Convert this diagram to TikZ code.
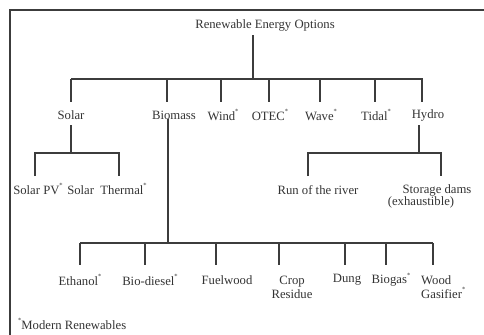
\documentclass[tikz,border=0pt]{standalone}
\usepackage{fontspec}
\setmainfont{Liberation Serif}
\definecolor{ink}{HTML}{333333}
\definecolor{rule}{HTML}{3C3C3C}
\newcommand{\md}{\raisebox{1.1ex}{\fontsize{6.5bp}{6.5bp}\selectfont *}}
\tikzset{
  lbl/.style={inner sep=0pt, text=ink, font=\fontsize{12.7bp}{14bp}\selectfont},
  two/.style={lbl, align=center},
  link/.style={draw=rule, line width=1.3bp},
  frame/.style={draw=rule, line width=1.6bp}
}
\begin{document}
\begin{tikzpicture}[x=1bp,y=-1bp]
  \useasboundingbox (0,0) rectangle (484,334);
  \clip (0,0) rectangle (484,334);
  \draw[frame] (10,10) rectangle (520,380);

  % root
  \node[lbl] (root) at (265,25) {Renewable Energy Options};

  % first level
  \node[lbl] (solar)   at (71,115)  {Solar};
  \node[lbl] (biomass) at (174,115) {Biomass};
  \node[lbl] (wind)    at (223,115) {Wind\md};
  \node[lbl] (otec)    at (270,115) {OTEC\md};
  \node[lbl] (wave)    at (321,115) {Wave\md};
  \node[lbl] (tidal)   at (376,115) {Tidal\md};
  \node[lbl] (hydro)   at (428,115) {Hydro};

  \coordinate (rootdown) at (253,35);
  \coordinate (rootbar)  at (253,79);
  \draw[link] (rootdown) -- (rootbar);
  \draw[link] (71,79) -- (423,79);
  \foreach \x/\n in {71/solar,167/biomass,221/wind,269/otec,320/wave,375/tidal,422/hydro}{
    \draw[link] (\x,79) -- (\x,102);
  }

  % solar branch
  \node[lbl] (pv)      at (38,189)  {Solar PV\md};
  \node[lbl] (thermal) at (107,189) {Solar\enspace Thermal\md};
  \draw[link] (71,125) -- (71,153);
  \draw[link] (35,176) -- (35,153) -- (119,153) -- (119,176);

  % hydro branch
  \node[lbl] (river)   at (318,190) {Run of the river};
  \node[lbl] (storage) at (437,190) {Storage dams};
  \node[lbl] (exh)     at (421,202) {(exhaustible)};
  \draw[link] (419,125) -- (419,153);
  \draw[link] (308,176) -- (308,153) -- (441,153) -- (441,176);

  % biomass branch
  \draw[link] (168,119) -- (168,243);
  \draw[link] (80,243) -- (433,243);
  \foreach \x in {80,145,216,279,345,386,433}{
    \draw[link] (\x,243) -- (\x,265);
  }
  \node[lbl] (ethanol) at (80,280)  {Ethanol\md};
  \node[lbl] (diesel)  at (150,280) {Bio-diesel\md};
  \node[lbl] (fuel)    at (227,280) {Fuelwood};
  \node[two] (crop)    at (292,287) {Crop\\Residue};
  \node[lbl] (dung)    at (347,280) {Dung};
  \node[lbl] (biogas)  at (391,280) {Biogas\md};
  \node[lbl, align=left, anchor=west] (gasifier) at (421,287) {Wood\\Gasifier\md};

  % footnote
  \node[lbl, anchor=west] (note) at (18,324) {\md Modern Renewables};
\end{tikzpicture}
\end{document}
